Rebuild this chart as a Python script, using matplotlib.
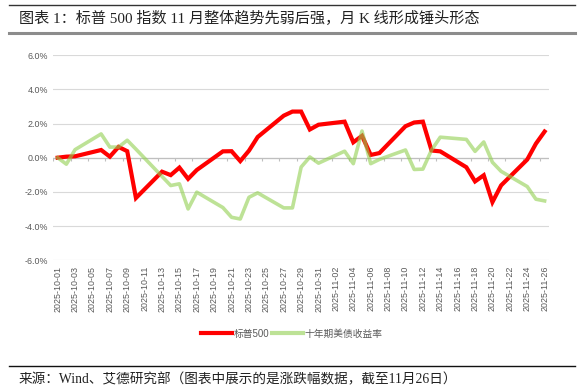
import numpy as np
import pandas as pd
import matplotlib
matplotlib.use('Agg')
import matplotlib.pyplot as plt
from matplotlib.lines import Line2D

plt.rcParams['font.family'] = ['Liberation Sans', 'Noto Sans CJK SC']

# trading days and cumulative change (%) since 2025-10-01
dates = [
    '2025-10-01', '2025-10-02', '2025-10-03',
    '2025-10-06', '2025-10-07', '2025-10-08', '2025-10-09', '2025-10-10',
    '2025-10-13', '2025-10-14', '2025-10-15', '2025-10-16', '2025-10-17',
    '2025-10-20', '2025-10-21', '2025-10-22', '2025-10-23', '2025-10-24',
    '2025-10-27', '2025-10-28', '2025-10-29', '2025-10-30', '2025-10-31',
    '2025-11-03', '2025-11-04', '2025-11-05', '2025-11-06', '2025-11-07',
    '2025-11-10', '2025-11-11', '2025-11-12', '2025-11-13', '2025-11-14',
    '2025-11-17', '2025-11-18', '2025-11-19', '2025-11-20', '2025-11-21',
    '2025-11-24', '2025-11-25', '2025-11-26',
]
spx = [
    0.00, 0.06, 0.08,
    0.45, 0.06, 0.63, 0.38, -2.36,
    -0.82, -1.02, -0.58, -1.24, -0.72,
    0.37, 0.38, -0.20, 0.41, 1.21,
    2.46, 2.70, 2.70, 1.65, 1.93,
    2.11, 0.90, 1.28, 0.16, 0.27,
    1.84, 2.06, 2.11, 0.42, 0.37,
    -0.56, -1.39, -1.03, -2.60, -1.62,
    -0.11, 0.82, 1.53,
]
ust10y = [
    0.00, -0.38, 0.47,
    1.39, 0.62, 0.62, 1.02, 0.50,
    np.nan, -1.63, -1.53, -3.00, -2.02,
    -2.92, -3.49, -3.59, -2.32, -2.06,
    -2.94, -2.94, -0.55, 0.04, -0.32,
    0.38, -0.35, 1.56, -0.35, -0.10,
    0.45, -0.69, -0.67, 0.45, 1.20,
    1.07, 0.37, 0.92, -0.27, -0.80,
    -1.69, -2.43, -2.53,
]
series_names = ['标普500', '十年期美债收益率']
yticks = [-6, -4, -2, 0, 2, 4, 6]

x = pd.to_datetime(dates)
spx = np.asarray(spx, float)
ust10y = np.asarray(ust10y, float)

fig = plt.figure(figsize=(5.84, 3.86), dpi=100)
ax = fig.add_axes([0.0913, 0.326, 0.8487, 0.531])

gray_txt = '#595959'
for v in yticks:
    ax.axhline(v, color='#d9d9d9', lw=0.8, zorder=1)
ax.axhline(0, color='#bfbfbf', lw=0.9, zorder=1)

x0 = pd.Timestamp('2025-10-01')
x1 = pd.Timestamp('2025-11-26')
half = pd.Timedelta(hours=12)
ax.set_xlim(x0 - half, x1 + half)
ax.set_ylim(-6, 6)

# small ticks hanging under the zero line
tick_pos = pd.date_range(x0, x1 + pd.Timedelta(days=1), freq='2D') - half
ax.vlines(tick_pos, -0.2, 0, color='#bfbfbf', lw=0.8, zorder=1)

ax.plot(x, spx, color='#ff0000', lw=3.0, solid_joinstyle='miter', zorder=3)
m = ~np.isnan(ust10y)
ax.plot(x[m], ust10y[m], color='#92d050', alpha=0.6, lw=2.6, zorder=4)

lab_dates = pd.date_range(x0, x1, freq='2D')
ax.set_xticks(lab_dates)
ax.set_xticklabels([d.strftime('%Y-%m-%d') for d in lab_dates], rotation=90,
                   fontsize=6.4, color=gray_txt)
ax.set_yticks(yticks)
ax.set_yticklabels([f'{v:.1f}%' for v in yticks], fontsize=6.4, color=gray_txt)
ax.tick_params(axis='x', length=0, pad=4)
ax.tick_params(axis='y', length=0, pad=4)
for s in ax.spines.values():
    s.set_visible(False)

handles = [Line2D([], [], color='#ff0000', lw=3.0),
           Line2D([], [], color='#92d050', alpha=0.6, lw=3.0)]
fig.legend(handles, series_names, loc='center', bbox_to_anchor=(0.5, 0.135),
           ncol=2, frameon=False, fontsize=7, handlelength=3.2, handletextpad=0.2,
           columnspacing=0.2, labelcolor=gray_txt)

# header / footer
serif = ['Liberation Serif', 'Noto Sans CJK SC']
fig.add_artist(Line2D([0.016, 0.985], [0.988, 0.988], color='#333333', lw=1.0))
fig.text(0.032, 0.952, '图表 1：标普 500 指数 11 月整体趋势先弱后强，月 K 线形成锤头形态',
         family=serif, fontsize=10.9, va='center', ha='left', color='#222222')
fig.add_artist(Line2D([0.016, 0.985], [0.914, 0.914], color='#8c8c8c', lw=2.2))
fig.add_artist(Line2D([0.016, 0.985], [0.052, 0.052], color='#111111', lw=1.0))
fig.text(0.032, 0.016, '来源：Wind、艾德研究部（图表中展示的是涨跌幅数据，截至11月26日）',
         family=serif, fontsize=9.8, va='center', ha='left', color='#222222')

fig.savefig('out.png', dpi=100)
